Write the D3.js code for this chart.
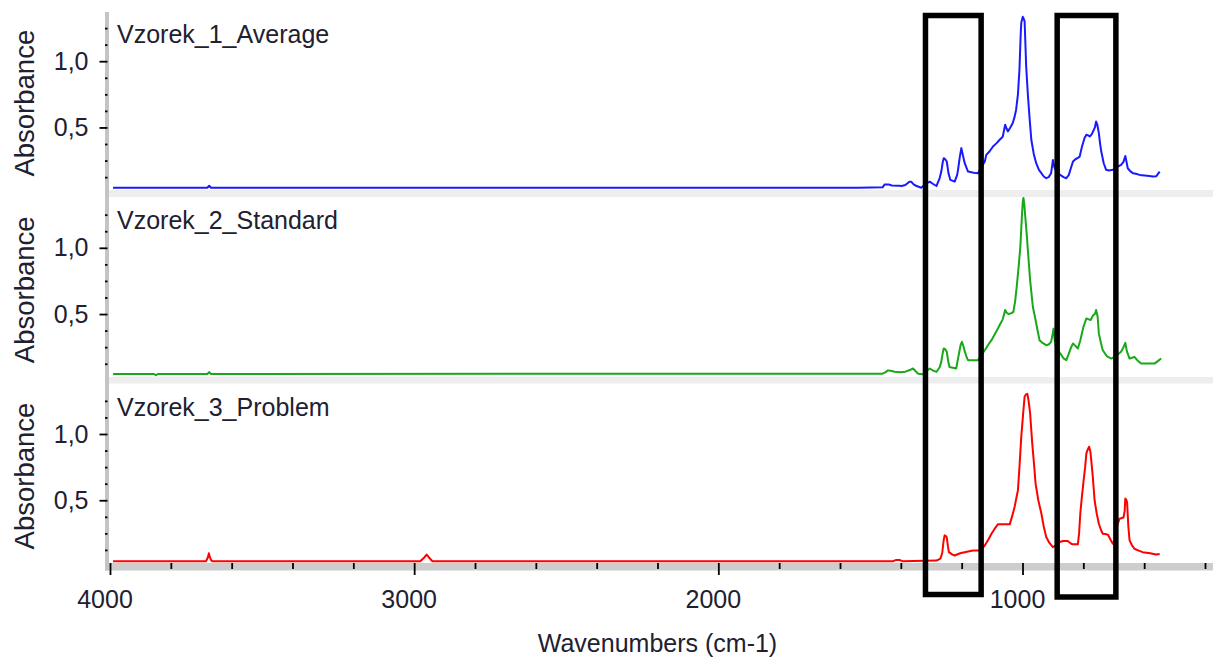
<!DOCTYPE html>
<html>
<head>
<meta charset="utf-8">
<script src="https://cdn.jsdelivr.net/npm/d3@7"></script>
<style>
  html, body { margin: 0; padding: 0; background: #ffffff; }
  svg { display: block; }
  text { font-family: "Liberation Sans", Arial, sans-serif; fill: #202030; }
</style>
</head>
<body>
<svg id="chart" width="1213" height="662"></svg>
<script>
// ---------- DATA ----------
const seriesNames = ["Vzorek_1_Average", "Vzorek_2_Standard", "Vzorek_3_Problem"];
const seriesColors = ["#1a1aff", "#18a818", "#ff0000"];

// [wavenumber (cm-1), absorbance]
const average = [
  [3990,0.045],[3680,0.045],[3674,0.06],[3668,0.045],[1540,0.045],[1460,0.048],[1453,0.07],[1440,0.07],
  [1430,0.062],[1405,0.06],[1398,0.058],[1385,0.065],[1372,0.09],[1366,0.091],[1358,0.07],[1350,0.06],
  [1333,0.045],[1318,0.075],[1305,0.091],[1295,0.075],[1283,0.058],[1272,0.12],[1267,0.167],[1262,0.24],
  [1259,0.268],[1254,0.26],[1249,0.243],[1243,0.15],[1237,0.104],[1223,0.091],[1215,0.14],[1212,0.18],
  [1206,0.28],[1201,0.344],[1196,0.29],[1190,0.23],[1183,0.19],[1179,0.167],[1160,0.158],[1146,0.155],
  [1135,0.2],[1124,0.243],[1119,0.293],[1108,0.32],[1097,0.356],[1086,0.38],[1075,0.407],[1065,0.43],
  [1057,0.52],[1052,0.49],[1048,0.47],[1040,0.5],[1032,0.533],[1026,0.58],[1021,0.634],[1015,0.75],
  [1010,0.937],[1006,1.2],[1004,1.29],[999,1.335],[996,1.32],[993,1.30],[990,1.1],[988,0.962],[982,0.735],
  [976,0.55],[971,0.407],[963,0.3],[955,0.23],[946,0.18],[938,0.155],[930,0.13],[922,0.117],[914,0.125],
  [906,0.155],[902,0.22],[900,0.255],[895,0.2],[889,0.167],[875,0.14],[865,0.125],[856,0.117],[848,0.14],
  [840,0.2],[834,0.243],[826,0.26],[818,0.27],[812,0.28],[805,0.35],[796,0.42],[790,0.445],[784,0.44],
  [779,0.432],[772,0.45],[768,0.47],[762,0.5],[758,0.545],[754,0.52],[749,0.457],[745,0.38],[741,0.318],
  [733,0.23],[725,0.18],[715,0.175],[703,0.18],[690,0.2],[676,0.217],[668,0.24],[662,0.285],[658,0.24],
  [654,0.192],[646,0.17],[637,0.155],[627,0.15],[615,0.142],[590,0.135],[571,0.129],[560,0.132],[549,0.167]
];
const standard = [
  [3990,0.048],[3855,0.048],[3849,0.038],[3843,0.048],[3680,0.048],[3674,0.062],[3668,0.048],[1540,0.05],
  [1460,0.05],[1450,0.062],[1442,0.075],[1430,0.07],[1420,0.065],[1400,0.06],[1385,0.065],[1368,0.08],
  [1360,0.089],[1352,0.07],[1343,0.05],[1328,0.045],[1315,0.07],[1305,0.089],[1295,0.075],[1283,0.063],
  [1272,0.1],[1267,0.139],[1262,0.21],[1259,0.24],[1254,0.235],[1249,0.215],[1244,0.14],[1240,0.1],
  [1218,0.089],[1213,0.15],[1209,0.2],[1203,0.27],[1199,0.29],[1194,0.255],[1190,0.22],[1183,0.17],
  [1179,0.152],[1160,0.152],[1146,0.152],[1135,0.19],[1124,0.227],[1112,0.27],[1102,0.303],[1088,0.36],
  [1075,0.417],[1065,0.46],[1057,0.53],[1052,0.51],[1046,0.5],[1038,0.505],[1030,0.517],[1024,0.6],
  [1019,0.707],[1013,0.85],[1007,1.01],[1002,1.237],[999,1.35],[997,1.376],[994,1.33],[991,1.237],
  [986,1.1],[982,0.972],[975,0.758],[966,0.555],[957,0.455],[950,0.37],[944,0.303],[933,0.28],[922,0.265],
  [914,0.27],[906,0.29],[900,0.36],[898,0.39],[894,0.3],[889,0.24],[875,0.2],[865,0.165],[856,0.152],
  [848,0.2],[840,0.25],[834,0.278],[826,0.26],[818,0.24],[810,0.3],[800,0.4],[790,0.467],[782,0.46],
  [776,0.455],[768,0.49],[762,0.5],[758,0.53],[753,0.48],[749,0.354],[742,0.28],[736,0.227],[722,0.18],
  [708,0.164],[695,0.18],[684,0.2],[676,0.215],[668,0.25],[662,0.283],[657,0.22],[648,0.164],[640,0.17],
  [632,0.177],[622,0.15],[610,0.126],[590,0.126],[566,0.126],[555,0.145],[544,0.164]
];
const problem = [
  [3990,0.04],[3684,0.04],[3678,0.07],[3675,0.1],[3672,0.075],[3668,0.05],[3664,0.04],[2980,0.04],
  [2966,0.07],[2959,0.09],[2952,0.07],[2940,0.04],[1540,0.04],[1425,0.04],[1415,0.05],[1405,0.05],
  [1395,0.04],[1283,0.045],[1270,0.06],[1264,0.1],[1259,0.2],[1256,0.235],[1252,0.23],[1249,0.22],
  [1245,0.15],[1242,0.108],[1230,0.09],[1223,0.083],[1205,0.1],[1190,0.108],[1175,0.115],[1163,0.121],
  [1141,0.121],[1132,0.14],[1124,0.159],[1113,0.2],[1102,0.247],[1090,0.29],[1081,0.318],[1060,0.318],
  [1042,0.318],[1034,0.38],[1026,0.449],[1020,0.52],[1015,0.576],[1010,0.75],[1004,0.98],[998,1.15],
  [993,1.283],[988,1.30],[984,1.303],[980,1.25],[975,1.157],[968,0.929],[962,0.77],[957,0.626],[948,0.5],
  [938,0.4],[930,0.3],[922,0.222],[912,0.18],[900,0.146],[890,0.16],[878,0.185],[867,0.192],[851,0.192],
  [840,0.172],[834,0.167],[818,0.167],[814,0.25],[810,0.4],[805,0.52],[799,0.65],[794,0.75],[790,0.854],
  [786,0.88],[781,0.904],[777,0.87],[774,0.803],[769,0.68],[763,0.5],[756,0.4],[749,0.323],[741,0.27],
  [736,0.247],[728,0.245],[719,0.24],[710,0.2],[703,0.172],[695,0.2],[690,0.3],[681,0.361],[668,0.37],
  [664,0.42],[662,0.513],[658,0.5],[656,0.48],[652,0.3],[648,0.197],[640,0.16],[632,0.134],[618,0.12],
  [605,0.108],[580,0.1],[561,0.09],[549,0.095]
];
const seriesData = [average, standard, problem];

const xMajorTicks = [4000, 3000, 2000, 1000];
const xMinorTicks = [3800,3600,3400,3200,2800,2600,2400,2200,1800,1600,1400,1200,800,600,400];
const yMajorTicks = [0.5, 1.0];
const yMinorTicks = [0.125, 0.25, 0.375, 0.625, 0.75, 0.875, 1.125, 1.25];
// highlighted wavenumber regions (cm-1)
const highlightRanges = [[1319, 1136], [886, 693]];

// ---------- LAYOUT ----------
const svg = d3.select("#chart");
const W = 1213, H = 662;
const axisX = 107.5;
const panelZero = [193.7, 380.3, 566.5];
const pxPerUnit = 132.5;
const yTopValue = 1.377;
const xAxisY = 563;
const boxTop = 15.5, boxBottoms = [594.5, 597];

const x = d3.scaleLinear().domain([4000, 400]).range([110, 1205]);
const yScales = panelZero.map(z => d3.scaleLinear().domain([0, yTopValue]).range([z, z - yTopValue * pxPerUnit]));

// separator bands between panels
svg.selectAll("rect.sep").data([[190, 197], [377, 383.5]]).enter().append("rect")
  .attr("class", "sep").attr("x", 109).attr("width", W - 109)
  .attr("y", d => d[0]).attr("height", d => d[1] - d[0]).attr("fill", "#eeeeee");

// x axis band
svg.append("rect").attr("x", 105).attr("y", xAxisY).attr("width", W - 105).attr("height", 7.5).attr("fill", "#cdcdcd");
// y axis line
svg.append("rect").attr("x", 105).attr("y", 12).attr("width", 4).attr("height", xAxisY + 7.5 - 12).attr("fill", "#c4c4c4");

// y axes per panel
yScales.forEach((y, i) => {
  const gMaj = svg.append("g").attr("transform", `translate(${axisX},0)`)
    .call(d3.axisLeft(y).tickValues(yMajorTicks).tickSize(8).tickPadding(11)
      .tickFormat(d => d3.format(".1f")(d).replace(".", ",")));
  gMaj.select(".domain").remove();
  gMaj.selectAll("line").attr("stroke", "#000").attr("stroke-width", 1.8);
  gMaj.selectAll("text").attr("font-size", 25).attr("fill", "#202030")
    .style("font-family", '"Liberation Sans", Arial, sans-serif');

  const gMin = svg.append("g").attr("transform", `translate(${axisX},0)`)
    .call(d3.axisLeft(y).tickValues(yMinorTicks).tickSize(2.5).tickFormat(""));
  gMin.select(".domain").remove();
  gMin.selectAll("line").attr("stroke", "#000").attr("stroke-width", 1.8);

  // axis title
  svg.append("text")
    .attr("transform", `translate(33.5,${panelZero[i] - 90.5}) rotate(-90)`)
    .attr("text-anchor", "middle").attr("font-size", 27.5)
    .text("Absorbance");

  // panel label
  svg.append("text").attr("x", 117).attr("y", panelZero[i] - 151)
    .attr("font-size", 25).text(seriesNames[i]);
});

// x axis ticks
const gx = svg.append("g").attr("transform", `translate(0,${xAxisY})`)
  .call(d3.axisBottom(x).tickValues(xMajorTicks).tickSize(12).tickFormat(d3.format("d")));
gx.select(".domain").remove();
gx.selectAll("line").attr("stroke", "#000").attr("stroke-width", 1.8);
gx.selectAll("text").attr("font-size", 25).attr("fill", "#202030")
  .attr("y", 45.3).attr("dy", 0).attr("x", -5.5)
  .style("font-family", '"Liberation Sans", Arial, sans-serif');

const gxm = svg.append("g").attr("transform", `translate(0,${xAxisY})`)
  .call(d3.axisBottom(x).tickValues(xMinorTicks).tickSize(6).tickFormat(""));
gxm.select(".domain").remove();
gxm.selectAll("line").attr("stroke", "#000").attr("stroke-width", 1.8);

svg.append("text").attr("x", (x.range()[0] + x.range()[1]) / 2).attr("y", 651.5)
  .attr("text-anchor", "middle").attr("font-size", 25).text("Wavenumbers (cm-1)");

// spectra
seriesData.forEach((data, i) => {
  const y = yScales[i];
  const line = d3.line().x(d => x(d[0])).y(d => y(d[1]));
  svg.append("path").datum(data).attr("d", line)
    .attr("fill", "none").attr("stroke", seriesColors[i]).attr("stroke-width", 2)
    .attr("stroke-linejoin", "round");
});

// highlight boxes
svg.selectAll("rect.box").data(highlightRanges).enter().append("rect")
  .attr("class", "box")
  .attr("x", d => x(d[0])).attr("width", d => x(d[1]) - x(d[0]))
  .attr("y", boxTop).attr("height", (d, i) => boxBottoms[i] - boxTop)
  .attr("fill", "none").attr("stroke", "#000").attr("stroke-width", 5.5);
</script>
</body>
</html>
